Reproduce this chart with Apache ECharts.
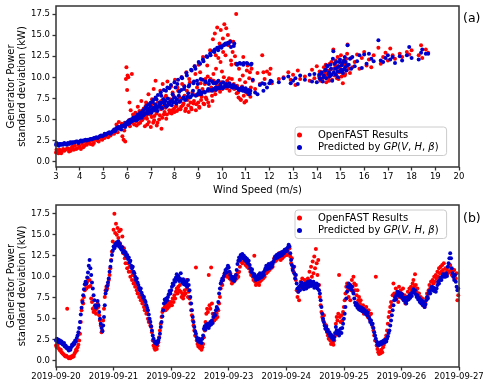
<!DOCTYPE html>
<html>
<head>
<meta charset="utf-8">
<script src="https://cdn.jsdelivr.net/npm/echarts@6/dist/echarts.min.js"></script>
<style>
  html, body { margin: 0; padding: 0; background: #fff; }
  #main { width: 491px; height: 387px; }
</style>
</head>
<body>
<div id="main"></div>
<script>
// panel (a): wind speed (m/s) and the two std values at each sample
var windSpeed = [
  3.0,3.05,3.1,3.15,3.2,3.3,3.35,3.4,3.5,3.55,
  3.6,3.7,3.75,3.8,3.9,3.95,4.0,4.05,4.1,4.2,
  4.25,4.3,4.4,4.45,4.5,4.6,4.65,4.7,4.8,4.85,
  4.9,5.0,5.05,5.1,5.2,5.25,5.3,5.4,5.45,5.5,
  5.55,5.6,5.65,5.7,5.75,5.8,5.85,5.9,5.92,5.95,
  5.97,6.0,6.02,6.05,6.08,6.1,6.12,6.15,6.2,6.25,
  6.3,6.35,6.4,6.45,6.5,6.55,6.6,6.65,6.7,6.75,
  6.8,6.82,6.85,6.9,6.95,7.0,7.02,7.05,7.1,7.12,
  7.15,7.2,7.22,7.25,7.3,7.35,7.4,7.42,7.45,7.5,
  7.55,7.6,7.62,7.65,7.7,7.75,7.8,7.85,7.9,7.95,
  8.0,8.02,8.05,8.1,8.15,8.2,8.25,8.3,8.35,8.4,
  8.45,8.5,8.55,8.6,8.65,8.7,8.75,8.8,8.85,8.9,
  8.95,9.0,9.02,9.05,9.1,9.15,9.2,9.25,9.3,9.35,
  9.4,9.45,9.5,9.55,9.6,9.62,9.65,9.7,9.72,9.75,
  9.8,9.82,9.85,9.9,9.92,9.95,10.0,10.02,10.05,10.1,
  10.12,10.15,10.2,10.25,10.3,10.35,10.4,10.45,10.5,10.55,
  10.6,10.62,10.7,10.75,10.8,10.85,10.9,10.95,11.0,11.05,
  11.1,11.15,11.2,11.25,11.3,11.4,11.5,11.6,11.7,11.75,
  11.8,11.9,12.0,12.05,12.1,12.4,12.6,12.8,12.9,13.0,
  13.1,13.2,13.3,13.5,13.7,13.8,13.9,14.0,14.1,14.15,
  14.2,14.25,14.3,14.35,14.4,14.45,14.5,14.55,14.6,14.65,
  14.7,14.72,14.75,14.8,14.85,14.9,14.95,15.0,15.05,15.1,
  15.15,15.2,15.25,15.3,15.35,15.4,15.45,15.5,15.6,15.7,
  15.8,15.9,16.0,16.1,16.2,16.3,16.4,16.6,16.7,16.8,
  16.9,17.0,17.1,17.2,17.3,17.5,17.6,17.8,17.9,18.0,
  18.3,18.4,18.45,18.6,18.7,
  6.32,6.38,6.42,6.48,6.52,6.58,6.62,6.68,6.72,6.78,
  6.84,6.88,6.92,6.98,7.04,7.08,7.14,7.18,7.24,7.28,
  7.32,7.38,7.44,7.48,7.52,7.58,7.64,7.68,7.72,7.78,
  7.82,7.88,7.92,7.98,8.04,8.08,8.12,8.18,8.22,8.28,
  8.32,8.38,8.42,8.48,8.52,8.58,8.62,8.68,8.72,8.78,
  8.82,8.88,8.92,8.98,9.04,9.08,9.12,9.18,9.22,9.28,
  9.32,9.38,9.42,9.48,9.52,9.58,9.64,9.68,9.74,9.78,
  9.84,9.88,9.94,9.98,10.04,10.08,10.14,10.18,10.22,10.28,
  10.32,10.38,10.42,10.48,10.52,10.58,10.64,10.68,10.72,10.78,
  10.82,10.88,10.92,10.98,11.02,11.08,11.12,11.18,11.22,
  14.12,14.18,14.28,14.38,14.42,14.52,14.58,14.62,14.68,14.78,
  14.82,14.88,14.92,14.98,15.02,15.08,15.12,15.18,15.22,15.28,
  3.02,3.12,3.22,3.28,3.45,3.62,3.68,3.85,4.15,4.35,
  4.55,4.75,4.95,5.15,5.35,5.48,5.62,5.78,5.88,6.22
];
var openfastA = [
  1.1,1.3,1.0,1.4,1.2,1.5,1.3,1.4,1.6,1.2,
  1.5,1.7,1.4,1.9,1.6,2.0,1.8,1.5,2.1,1.9,
  2.3,2.0,2.4,2.1,2.5,2.2,2.6,2.8,2.4,2.9,
  2.7,3.0,2.8,3.2,2.9,3.4,3.1,3.6,3.3,3.8,
  4.4,3.5,4.7,3.9,4.2,3.0,2.6,4.6,2.4,9.8,
  11.2,8.5,10.2,10.0,4.9,7.0,4.2,6.1,10.4,5.6,
  4.4,5.8,4.3,6.5,5.2,4.6,7.2,5.0,6.3,4.2,
  7.0,5.5,4.4,8.0,5.9,4.1,6.6,7.4,4.6,8.6,
  5.4,9.6,6.0,4.3,7.0,5.0,8.4,6.2,3.9,9.2,
  5.6,7.6,6.4,5.1,9.5,6.8,5.8,8.9,6.1,7.8,
  5.9,9.7,6.5,6.0,8.4,7.1,6.2,10.0,6.7,9.0,
  6.0,10.6,7.3,5.9,9.4,6.4,8.2,6.9,11.3,6.1,
  8.8,7.0,11.5,6.4,9.3,7.7,12.4,6.8,9.8,7.4,
  10.1,6.6,13.2,8.8,7.2,14.5,9.6,15.2,8.0,11.0,
  15.9,9.0,12.3,14.0,8.3,15.6,10.7,8.6,13.0,16.3,
  9.3,12.6,8.7,15.0,9.9,14.3,11.5,13.0,9.2,12.5,
  17.5,8.1,7.6,9.7,7.3,8.9,12.4,7.0,8.3,10.8,
  8.0,9.9,7.7,11.0,9.6,8.6,10.5,9.2,12.6,10.6,
  9.8,10.7,10.4,11.0,9.3,9.8,10.0,10.6,9.7,10.3,
  9.1,10.8,9.8,10.1,9.6,10.9,9.9,11.3,10.1,9.6,
  10.4,9.9,11.2,10.5,9.4,10.8,10.0,11.6,10.3,9.7,
  13.3,11.0,10.2,12.0,9.9,11.3,10.6,11.8,10.1,9.3,
  11.5,10.4,12.2,13.9,11.0,10.5,12.3,11.2,11.8,12.7,
  11.0,12.3,13.0,11.4,12.1,11.2,12.6,13.5,11.6,12.4,
  12.9,12.0,13.4,12.6,12.2,12.8,12.4,13.0,12.7,13.2,
  12.6,13.8,12.3,13.3,12.9,
  5.1,4.8,5.6,4.5,6.0,5.3,4.9,5.8,5.2,6.6,
  5.1,6.2,4.7,5.6,5.3,6.9,4.9,6.4,5.7,4.6,
  6.8,5.5,7.2,5.2,6.5,5.9,7.8,5.6,6.7,6.1,
  7.4,5.7,8.2,6.3,7.0,6.6,8.8,6.2,7.6,6.5,
  9.2,6.9,7.8,6.3,8.4,6.7,9.8,7.0,6.2,8.0,
  7.2,10.4,6.8,7.9,6.5,10.6,7.3,8.6,6.9,9.2,
  7.6,11.4,7.0,8.4,9.8,7.8,10.4,8.4,12.6,9.2,
  13.5,8.6,11.8,9.4,14.6,10.0,8.8,15.8,9.6,13.8,
  8.4,12.0,9.8,14.2,8.6,11.6,9.0,8.2,11.0,7.4,
  8.6,10.2,7.8,9.4,7.2,11.4,8.4,10.6,8.8,
  10.7,9.8,10.6,11.5,10.2,9.6,10.9,11.8,10.4,11.4,
  10.3,12.4,9.8,11.0,12.6,10.8,11.9,10.2,11.6,12.8,
  1.4,1.2,1.0,1.3,1.5,1.3,1.8,1.5,1.7,2.2,
  2.0,2.5,2.6,3.0,3.3,3.7,4.0,4.5,3.7,4.6
];
var predictedA = [
  2.0,2.1,2.0,2.1,2.1,2.0,2.2,2.1,2.2,2.1,
  2.3,2.2,2.3,2.3,2.4,2.2,2.4,2.5,2.4,2.5,
  2.6,2.5,2.6,2.7,2.7,2.8,2.8,2.9,2.9,3.0,
  3.1,3.1,3.3,3.2,3.4,3.5,3.3,3.6,3.8,3.7,
  4.0,3.9,4.1,4.0,3.8,4.2,4.3,4.4,4.1,4.6,
  4.5,4.4,4.7,4.8,4.5,4.9,4.6,5.0,4.8,5.2,
  5.0,5.3,4.9,5.6,5.1,5.8,5.4,6.0,5.5,6.3,
  5.7,6.6,5.9,6.8,6.0,7.0,5.8,6.2,7.3,6.4,
  6.1,7.6,6.5,6.3,7.9,6.6,6.8,8.2,6.4,7.0,
  8.5,6.7,7.2,6.5,8.8,7.0,6.8,9.1,7.3,7.0,
  9.4,7.6,7.1,7.4,9.7,8.3,7.2,10.0,7.5,8.6,
  7.3,10.5,7.7,8.9,7.6,10.9,7.9,9.3,11.3,7.8,
  9.6,8.1,11.8,8.0,9.8,8.2,12.1,8.3,9.5,12.5,
  8.4,9.2,12.8,8.5,9.5,13.1,8.6,13.3,9.3,8.5,
  13.5,8.7,9.6,13.6,8.7,9.0,13.7,8.8,9.4,13.9,
  8.9,14.0,9.2,14.1,8.9,14.2,9.0,8.8,13.7,8.9,
  8.7,11.6,8.6,11.7,8.5,8.8,11.5,8.4,8.7,11.7,
  8.2,8.0,8.4,11.6,9.7,8.2,8.0,9.1,9.3,8.4,
  9.2,8.8,9.3,9.6,9.5,9.4,9.9,10.1,9.3,9.6,
  9.9,9.2,10.2,9.7,10.3,9.5,10.4,9.4,10.3,9.8,
  10.6,9.5,10.2,10.8,9.9,11.3,10.4,10.1,11.0,9.6,
  13.1,10.6,11.6,10.3,11.1,10.0,11.8,10.7,11.4,10.5,
  12.0,11.2,10.8,13.8,11.5,12.2,11.0,12.4,11.3,11.9,
  12.6,11.1,12.7,11.6,12.8,12.2,11.9,14.4,12.0,11.8,
  12.3,12.6,12.1,12.4,11.7,12.5,12.0,12.6,13.6,12.3,
  12.1,12.9,13.3,12.8,12.8,
  4.9,5.2,5.0,5.4,5.3,5.6,5.2,6.1,5.7,6.4,
  6.0,5.7,6.3,6.6,5.9,7.1,6.2,6.8,7.4,6.0,
  6.5,7.0,7.8,6.3,7.4,6.9,8.4,6.6,7.5,8.7,
  7.1,6.7,8.0,7.6,8.8,6.9,9.2,7.8,7.1,8.5,
  9.9,7.6,8.9,7.4,10.2,8.1,9.1,7.7,10.8,8.4,
  9.5,11.0,7.9,9.2,8.4,11.6,8.0,9.7,11.9,8.2,
  9.4,12.4,8.6,9.6,12.6,8.4,9.3,13.0,8.8,9.4,
  13.2,8.8,9.2,13.5,8.7,13.8,9.1,13.9,8.9,14.0,
  9.3,13.6,8.8,9.1,14.0,8.9,11.5,8.7,8.5,11.6,
  8.7,8.4,11.7,8.6,8.3,11.6,8.5,8.1,11.5,
  9.9,10.5,10.0,10.9,11.4,10.6,11.5,10.3,12.2,11.0,
  11.8,10.7,11.3,12.1,10.9,11.7,10.9,12.4,11.8,11.4,
  2.2,1.9,2.0,2.1,2.0,2.2,2.3,2.4,2.5,2.6,
  2.7,2.8,3.0,3.3,3.5,3.6,4.1,4.3,4.2,4.9
];

// panel (b): one sample every 20 minutes from 2019-09-20 00:00, one row per day
var openfastB = [
  1.8,1.6,1.9,1.5,1.4,1.2,1.3,1.0,0.9,0.8,0.7,0.6,0.5,0.6,6.2,0.4,0.3,0.4,0.3,0.5,0.4,0.6,0.5,0.8,1.0,1.3,1.2,1.6,1.9,2.4,3.2,4.6,6.0,7.2,6.8,7.6,8.4,9.0,8.6,9.4,9.8,8.8,9.6,8.9,7.4,7.0,6.2,5.8,6.4,6.0,5.6,6.2,6.8,6.4,5.4,4.8,4.2,3.4,3.6,4.8,6.2,7.6,8.4,8.8,8.6,9.0,9.6,10.2,11.0,12.0,13.0,14.2,
  15.6,17.5,15.2,16.3,15.0,15.8,14.6,15.4,14.0,15.6,13.6,14.8,12.8,13.4,12.2,11.6,12.4,11.0,11.6,10.6,11.2,10.0,10.6,9.6,10.2,9.2,9.6,8.8,9.2,8.4,8.0,8.6,7.6,7.9,7.2,7.6,6.8,7.2,6.4,6.0,6.6,5.6,5.8,5.0,4.6,4.8,4.2,4.0,3.4,2.4,1.8,1.5,1.3,1.6,1.4,1.8,2.2,2.8,3.6,4.4,5.2,5.8,6.2,6.0,6.4,6.0,6.6,6.2,6.8,6.4,7.0,6.6,
  7.0,6.6,7.4,7.0,7.8,7.4,8.2,8.6,8.0,8.8,8.4,9.0,8.2,7.6,8.0,7.4,7.8,8.4,8.0,9.6,8.6,7.6,8.2,7.4,6.8,6.0,5.4,4.8,4.2,3.6,3.0,11.1,2.4,2.0,1.7,2.2,1.5,1.8,1.3,1.6,2.0,2.8,3.6,4.6,5.6,6.2,5.8,10.2,6.6,6.2,11.1,6.8,5.6,5.2,4.8,5.4,5.0,5.6,5.2,6.0,6.8,7.6,8.6,9.2,9.0,9.6,10.0,10.4,10.2,10.6,10.0,10.4,
  10.2,9.8,10.4,9.6,9.2,9.8,9.4,10.0,9.6,10.2,9.8,10.4,10.0,10.6,11.2,11.8,12.2,11.6,12.4,11.8,12.2,11.4,12.0,11.2,11.8,11.0,11.4,10.6,10.2,10.8,10.0,9.6,12.5,9.4,9.0,9.8,9.2,9.6,9.0,9.4,10.0,9.6,10.2,9.8,10.4,10.0,10.8,10.4,11.0,10.6,11.2,10.8,11.4,11.0,11.6,11.2,11.8,12.2,11.8,12.4,12.0,12.6,12.2,12.8,12.4,12.0,12.6,12.2,12.8,12.4,13.0,12.6,
  13.0,12.6,13.2,12.8,13.4,12.4,11.6,12.2,11.0,10.6,11.2,10.2,9.6,8.4,7.6,8.2,7.2,8.8,9.4,8.6,9.8,9.2,8.8,9.6,9.0,9.4,8.8,9.8,9.2,10.6,9.4,11.2,10.0,11.8,10.4,12.4,11.0,13.3,11.6,10.2,12.0,9.0,7.6,6.6,5.8,5.2,4.8,5.4,4.4,3.8,4.2,3.4,3.0,2.6,3.2,2.4,2.0,2.6,2.2,1.9,2.4,3.0,4.4,5.2,4.8,5.6,10.2,5.2,4.6,5.4,4.8,5.8,
  6.4,7.2,8.0,8.8,9.2,8.4,7.6,8.8,7.2,8.4,9.6,8.8,10.0,9.2,8.4,9.0,7.8,8.4,7.2,7.6,6.8,7.2,6.4,6.0,6.6,5.6,6.2,5.8,6.4,5.6,5.2,6.0,5.4,4.8,5.6,4.4,4.0,3.6,3.0,2.4,10.0,1.8,1.4,1.0,0.8,1.1,0.9,1.3,1.0,1.6,1.9,2.2,2.6,3.0,3.6,4.4,5.2,5.8,6.4,7.0,6.6,7.8,9.2,8.0,7.6,8.6,7.4,8.2,7.0,8.8,7.6,8.4,
  8.0,7.4,8.6,7.2,7.8,6.8,7.2,7.6,8.2,7.4,8.6,8.0,8.8,8.4,9.2,9.6,8.8,10.3,9.0,8.2,8.6,7.6,8.0,7.2,7.6,6.8,7.4,6.6,7.0,6.4,6.8,7.4,8.0,7.6,8.4,9.0,8.6,9.4,8.8,9.6,9.2,10.0,9.4,10.2,9.8,10.6,10.0,11.0,10.4,11.2,10.6,11.4,10.8,11.6,10.4,11.0,10.2,10.8,10.4,11.2,10.6,11.4,10.8,10.2,10.6,10.0,10.8,10.2,9.8,10.4,7.2,7.8
];
var predictedB = [
  2.4,2.6,2.3,2.5,2.2,2.4,2.1,2.3,2.0,1.9,2.1,1.7,1.8,1.5,1.6,1.4,1.2,1.5,1.3,1.6,1.9,1.8,2.1,2.0,2.4,2.3,2.7,3.0,3.4,3.9,4.6,5.5,6.3,7.0,7.8,8.5,9.1,9.4,9.2,9.9,10.5,11.3,12.0,11.0,10.2,9.3,8.6,7.8,7.2,6.6,6.3,6.5,7.1,6.6,5.8,5.0,4.4,3.9,3.5,4.2,5.2,6.6,8.0,8.4,8.9,9.3,9.8,10.6,11.2,11.9,12.6,13.1,
  13.6,13.4,13.9,13.7,14.1,13.8,14.2,13.6,13.9,13.4,13.2,13.5,12.9,13.1,12.7,12.9,12.4,12.6,12.1,12.3,11.7,11.9,11.3,11.0,11.2,10.6,10.4,10.0,9.6,9.8,9.3,9.0,8.7,8.4,8.6,8.1,7.8,7.5,7.6,7.2,7.0,6.6,6.3,6.0,5.5,5.0,4.6,4.1,3.6,3.0,2.6,2.3,2.1,2.3,2.0,2.2,2.4,2.7,3.2,4.0,4.6,5.3,6.0,6.8,7.3,7.0,7.4,7.2,7.6,7.9,8.3,8.0,
  8.4,8.8,9.2,9.0,9.6,9.4,9.9,10.3,9.7,10.1,9.5,9.8,10.4,9.6,9.3,9.7,9.1,9.4,9.0,9.3,8.8,9.6,9.0,8.4,7.6,6.8,6.0,5.2,4.6,4.0,3.5,3.2,2.8,2.5,2.3,2.6,2.2,2.4,2.1,2.6,3.0,3.8,4.1,3.7,4.3,4.0,4.4,3.9,4.2,4.6,4.3,4.8,4.5,5.2,5.6,5.4,6.0,6.4,6.2,7.0,8.0,8.6,9.2,9.5,9.8,9.6,10.1,10.4,10.8,10.5,11.0,11.3,
  11.1,10.6,10.2,9.8,10.0,9.6,9.9,9.5,9.8,10.2,10.8,11.5,11.9,12.3,12.0,12.6,12.4,12.7,12.2,12.5,12.0,12.3,11.8,12.1,11.6,11.9,11.4,11.0,10.6,10.9,10.4,10.1,10.3,9.9,9.6,10.0,9.7,10.2,9.8,10.4,9.9,10.3,10.0,10.5,10.2,10.7,11.0,11.3,10.9,11.2,11.5,11.0,11.3,11.6,11.2,11.5,11.8,12.1,12.4,12.2,12.6,12.3,12.7,12.4,12.8,12.5,12.9,12.6,13.0,12.8,13.2,13.0,
  13.3,13.1,13.5,13.8,13.6,12.8,12.0,11.4,10.8,11.2,10.4,9.8,10.2,9.2,8.6,8.2,8.8,8.4,9.0,9.3,8.7,9.1,8.5,8.9,9.2,8.6,9.0,9.4,8.8,9.2,9.5,8.9,9.3,9.0,9.4,8.7,9.1,8.8,9.2,8.6,9.0,8.4,8.0,7.2,6.4,5.6,5.0,4.6,4.2,3.8,4.0,3.5,3.7,3.2,3.4,2.9,3.1,2.7,2.9,2.5,2.8,3.3,4.0,3.6,3.2,3.6,3.0,3.4,3.8,3.3,3.9,4.4,
  5.0,5.6,6.4,7.4,8.2,8.8,9.2,8.7,9.0,8.5,8.8,8.3,8.0,7.4,6.9,6.6,6.8,6.3,6.5,6.1,6.4,6.0,6.3,5.9,6.2,5.8,6.0,5.6,5.9,5.4,5.7,5.2,5.0,4.6,4.8,4.3,4.4,3.9,3.4,3.0,2.6,2.3,2.0,1.8,2.1,1.9,2.2,2.0,2.3,2.1,2.4,2.2,2.5,2.3,2.6,2.9,3.3,3.6,4.2,4.8,5.4,6.0,6.6,7.2,7.6,7.3,7.9,8.2,7.8,8.1,7.7,8.0,
  7.6,7.9,7.4,7.2,7.5,7.0,6.8,7.2,7.6,7.3,7.8,7.5,8.0,7.7,8.2,8.5,8.1,8.4,7.9,7.6,7.8,7.3,7.5,7.0,7.3,6.8,7.1,6.6,6.9,6.4,6.7,7.2,7.6,7.4,8.0,8.3,8.0,8.5,8.8,8.4,8.7,8.3,8.6,8.2,8.6,9.0,9.4,9.2,9.6,9.9,9.6,10.0,10.3,10.0,10.2,10.0,10.4,10.1,11.2,11.6,12.2,12.8,12.2,11.0,10.4,10.0,9.6,10.2,9.4,8.8,8.4,8.6
];
var samplesPerDay = 72;

var yTicks = [0, 2.5, 5, 7.5, 10, 12.5, 15, 17.5];
var dateLabels = ['2019-09-20', '2019-09-21', '2019-09-22', '2019-09-23',
  '2019-09-24', '2019-09-25', '2019-09-26', '2019-09-27'];

var RED = '#ff0000';
var BLUE = '#0000cc';
var FONT = 'DejaVu Sans';
var FRAME = '#333333';

function pairs(xs, ys) {
  return ys.map(function (v, i) { return [xs[i], v]; });
}
function timeSeries(ys) {
  return ys.map(function (v, i) { return [i / samplesPerDay, v]; });
}

var chart = echarts.init(document.getElementById('main'), null, { renderer: 'canvas' });

var yName = 'Generator Power\nstandard deviation (kW)';
var yRange = [[-0.63, 18.45], [-0.75, 18.54]];
var xRange = [[3, 20], [0, 7]];
var tickStyle = { show: true, length: 3.5, lineStyle: { color: FRAME, width: 1.3 } };

function yAxis(idx) {
  return {
    gridIndex: idx, type: 'value', min: yRange[idx][0], max: yRange[idx][1],
    name: yName, nameLocation: 'middle', nameGap: 28, nameRotate: 90, nameMoveOverlap: false,
    nameTextStyle: { fontFamily: FONT, fontSize: 10, color: '#000', lineHeight: 11 },
    axisLine: { show: false, onZero: false },
    axisTick: { show: true, length: 3.5, customValues: yTicks, lineStyle: tickStyle.lineStyle },
    axisLabel: { customValues: yTicks, margin: 6, fontFamily: FONT, fontSize: 8.5, color: '#000',
      formatter: function (v) { return v.toFixed(1); } },
    splitLine: { show: false }
  };
}

var legendText = {
  fontFamily: FONT, fontSize: 10, color: '#000',
  rich: { i: { fontFamily: FONT, fontSize: 10, fontStyle: 'italic', color: '#000' } }
};
function legendAt(top) {
  return {
    orient: 'vertical', left: 295, top: top,
    data: ['OpenFAST Results', 'Predicted by GP'],
    itemWidth: 27, itemHeight: 5, itemGap: 2.5,
    padding: [3, 8, 3, 2],
    backgroundColor: 'rgba(255,255,255,0.8)', borderColor: '#cccccc', borderWidth: 1, borderRadius: 3,
    textStyle: legendText,
    formatter: function (name) {
      return name === 'Predicted by GP' ? 'Predicted by {i|GP}({i|V}, {i|H}, {i|β})' : name;
    }
  };
}

function dots(name, color, data, idx) {
  return {
    name: name, type: 'scatter', xAxisIndex: idx, yAxisIndex: idx,
    data: data, symbol: 'circle', symbolSize: 4,
    itemStyle: { color: color, opacity: 1 }, silent: true
  };
}

var titleStyle = { fontFamily: FONT, fontSize: 12.5, fontWeight: 'normal', color: '#000' };

var option = {
  animation: false,
  backgroundColor: '#fff',
  title: [
    { text: '(a)', left: 458, top: 7, textStyle: titleStyle },
    { text: '(b)', left: 458, top: 207, textStyle: titleStyle }
  ],
  grid: [
    { left: 56, top: 6, width: 403, height: 161, outerBoundsMode: 'none', containLabel: false },
    { left: 56, top: 205, width: 403, height: 162, outerBoundsMode: 'none', containLabel: false }
  ],
  xAxis: [
    {
      gridIndex: 0, type: 'value', min: 3, max: 20, interval: 1,
      name: 'Wind Speed (m/s)', nameLocation: 'middle', nameGap: 18, nameMoveOverlap: false,
      nameTextStyle: { fontFamily: FONT, fontSize: 10, color: '#000' },
      axisLine: { show: false, onZero: false },
      axisTick: tickStyle,
      axisLabel: { margin: 5, fontFamily: FONT, fontSize: 8.5, color: '#000' },
      splitLine: { show: false }
    },
    {
      gridIndex: 1, type: 'value', min: 0, max: 7, interval: 1,
      axisLine: { show: false, onZero: false },
      axisTick: tickStyle,
      axisLabel: { margin: 5, fontFamily: FONT, fontSize: 8.5, color: '#000',
        formatter: function (v) { return dateLabels[Math.round(v)]; } },
      splitLine: { show: false }
    }
  ],
  yAxis: [yAxis(0), yAxis(1)],
  legend: [legendAt(127), legendAt(210)],
  series: [
    dots('OpenFAST Results', RED, pairs(windSpeed, openfastA), 0),
    dots('Predicted by GP', BLUE, pairs(windSpeed, predictedA), 0),
    dots('OpenFAST Results', RED, timeSeries(openfastB), 1),
    dots('Predicted by GP', BLUE, timeSeries(predictedB), 1)
  ]
};

chart.setOption(option);

// panel frames, placed from each grid's own axis extents
var frames = [0, 1].map(function (g) {
  var tl = chart.convertToPixel({ xAxisIndex: g, yAxisIndex: g }, [xRange[g][0], yRange[g][1]]);
  var br = chart.convertToPixel({ xAxisIndex: g, yAxisIndex: g }, [xRange[g][1], yRange[g][0]]);
  return {
    type: 'rect', silent: true, z: 50,
    shape: { x: tl[0], y: tl[1], width: br[0] - tl[0], height: br[1] - tl[1] },
    style: { fill: null, stroke: FRAME, lineWidth: 1.5 }
  };
});
chart.setOption({ graphic: { elements: frames } });
</script>
</body>
</html>
